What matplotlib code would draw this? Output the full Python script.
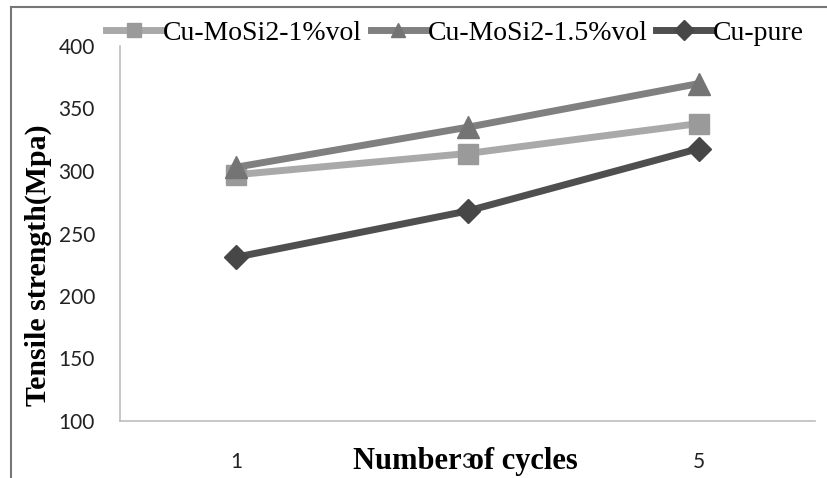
import matplotlib
matplotlib.use("Agg")
import matplotlib.pyplot as plt
from matplotlib.lines import Line2D

cycles = ["1", "3", "5"]
s_1pct = [297, 314, 338]
s_15pct = [303, 335, 370]
s_pure = [231, 268, 318]
series_names = ["Cu-MoSi2-1%vol", "Cu-MoSi2-1.5%vol", "Cu-pure"]
yticks = [100, 150, 200, 250, 300, 350, 400]

fig = plt.figure(figsize=(8.27, 4.78), dpi=100)
fig.patch.set_facecolor("white")
ax = fig.add_axes([120/827, 1-421/478, (815-120)/827, (421-46)/478])

x = list(range(len(cycles)))
styles = [
    (s_1pct, "#a9a9a9", "s", "#9a9a9a", 15),
    (s_15pct, "#808080", "^", "#747474", 16),
    (s_pure, "#4f4f4f", "D", "#474747", 12),
]
handles = []
for (vals, lc, mk, mc, ms), name in zip(styles, series_names):
    ax.plot(x, vals, color=lc, lw=5, marker=mk, markersize=ms,
            markerfacecolor=mc, markeredgecolor=mc, zorder=3)
    handles.append(Line2D([], [], color=lc, lw=5, marker=mk, markersize=10,
                          markerfacecolor=mc, markeredgecolor=mc))

ax.set_xlim(-0.5, 2.5)
ax.set_ylim(100, 400)
ax.set_yticks(yticks)
ax.set_xticks(x)
ax.set_xticklabels(cycles)
for sp in ["top", "right"]:
    ax.spines[sp].set_visible(False)
for sp in ["left", "bottom"]:
    ax.spines[sp].set_color("#bdbdbd")
    ax.spines[sp].set_linewidth(1.2)
ax.tick_params(axis="both", length=0, labelsize=15, labelcolor="#222222")
ax.tick_params(axis="x", pad=22)
ax.tick_params(axis="y", pad=18)
for lab in ax.get_xticklabels() + ax.get_yticklabels():
    lab.set_fontfamily("Lato")

ax.set_xlabel("Number of cycles", fontfamily="Liberation Serif", fontweight="bold",
              fontsize=22)
ax.set_ylabel("Tensile strength(Mpa)", fontfamily="Liberation Serif", fontweight="bold",
              fontsize=21.5)
ax.yaxis.label.set_va("center")
ax.yaxis.set_label_coords(-0.118, 0.416)
ax.xaxis.set_label_coords(0.497, -0.07)
ax.xaxis.label.set_va("top")

leg = fig.legend(handles, series_names, loc="center", bbox_to_anchor=(455/827, 1-33/478),
                 ncol=3, frameon=False, prop={"family": "Liberation Serif", "size": 20},
                 handlelength=2.0, handletextpad=0.05, columnspacing=0.3)

# outer frame (top and left)
fig.add_artist(Line2D([11/827, 11/827], [0, 1-7/478], transform=fig.transFigure,
                      color="#777777", lw=1.5))
fig.add_artist(Line2D([11/827, 1], [1-7/478, 1-7/478], transform=fig.transFigure,
                      color="#777777", lw=1.5))

fig.savefig("out.png", dpi=100)
